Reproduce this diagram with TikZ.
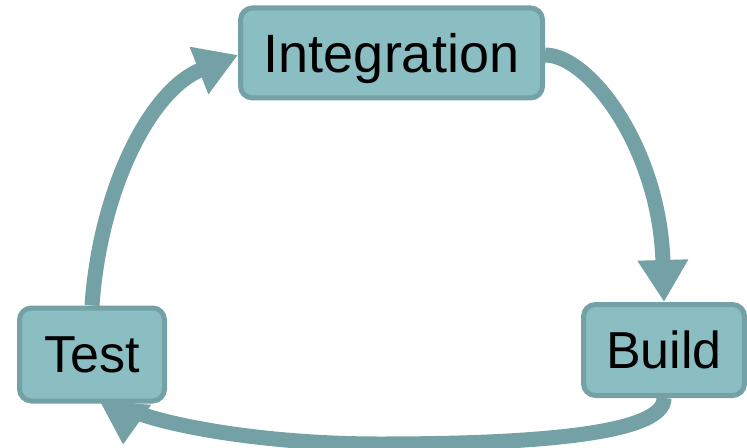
\documentclass[tikz,border=0pt]{standalone}
\usepackage{fontspec}
\setmainfont{Liberation Sans}
\usetikzlibrary{arrows.meta}
\definecolor{boxfill}{RGB}{138,190,194}
\definecolor{boxline}{RGB}{115,161,165}

\begin{document}
\begin{tikzpicture}[x=0.5pt,y=-0.5pt,
  every node/.style={draw=boxline,fill=boxfill,line width=2.5pt,rounded corners=6pt,
    inner sep=0pt,text depth=0pt,font=\fontsize{26}{30}\selectfont},
  link/.style={draw=boxline,line width=7.5pt,-{Triangle[length=21pt,width=24pt]}}]
  \useasboundingbox (0,0) rectangle (747,448);
  \node[minimum width=151pt,minimum height=45pt,font=\fontsize{27}{30}\selectfont] (I) at (391.5,53) {Integration};
  \node[minimum width=80.5pt,minimum height=45.5pt] (B) at (664,350) {Build};
  \node[minimum width=72.5pt,minimum height=46.5pt] (T) at (92,354.5) {Test};
  \coordinate (Tend) at (123,445);

  \draw[link] (I.east |- 0,55) .. controls (590,55) and (660,150) .. (B.north);
  \draw[link] (B.south) .. controls (665,436) and (520,444) .. (380,444)
    .. controls (230,444) and (125,414) .. (Tend);
  \draw[link] (T.north) .. controls (100,190) and (150,90) .. (I.west |- 0,55);
\end{tikzpicture}
\end{document}
